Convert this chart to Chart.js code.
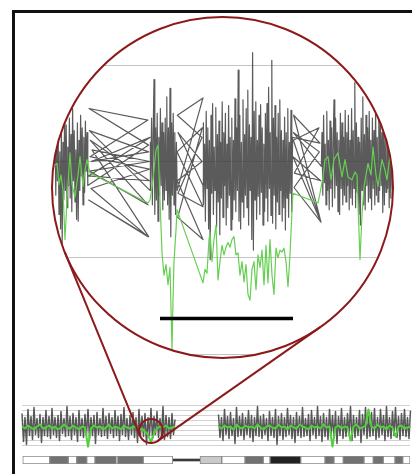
<!DOCTYPE html>
<html>
<head>
<meta charset="utf-8">
<title>Deletion zoom</title>
<script src="https://cdn.jsdelivr.net/npm/chart.js@4.4.1/dist/chart.umd.min.js"></script>
<style>
    html, body { margin: 0; padding: 0; background: #fff; width: 412px; height: 474px; overflow: hidden; }
    .frame { position: absolute; left: 12px; top: 10px; width: 420px; height: 480px; border: 3px solid #111; }
    canvas { position: absolute; left: 0; top: 0; }
    #zoomChart { z-index: 3; }
</style>
</head>
<body>
<div class="frame"></div>
<canvas id="stripChart" width="412" height="474"></canvas>
<canvas id="ideoChart" width="412" height="474"></canvas>
<canvas id="zoomChart" width="412" height="474"></canvas>
<script>
// ---------- whole chromosome, positions in Mb ----------
var chrLengthMb = 155.2;
var probeStepMb = 0.6;
var pArmStartMb = 0;
var qArmStartMb = 78.6;
var pArmGray = [
    1.2, -1.6, 0.8, -1.9, 1.6, -1.0, 0.9, -1.4, 1.8, -0.9, 0.7, -1.2, 1.1, -1.7, 0.8, -1.0, 1.5, -1.1, 0.9, -1.3,
    1.7, -0.9, 0.8, -1.2, 1.0, -1.5, 1.4, -0.8, 0.7, -1.1, 1.9, -1.0, 0.9, -1.4, 1.2, -0.9, 0.8, -1.6, 1.5, -1.0,
    0.7, -1.2, 1.1, -0.9, 1.6, -1.3, 0.8, -1.0, 1.0, -1.8, 1.3, -0.9, 0.7, -1.1, 1.7, -1.0, 0.9, -1.3, 1.2, -0.8,
    0.8, -1.2, 1.5, -1.0, 0.9, -1.5, 1.1, -0.9, 1.8, -1.1, 0.7, -1.4, 1.0, -0.9, 1.3, -1.2, 0.8, -1.7, 1.6, -1.0,
    0.9, -1.1, 1.2, -1.9, 0.8, -1.0, 1.7, -1.3, 0.9, -0.9, 1.4, -1.2, 0.7, -1.0, 1.9, -1.4, 1.0, -1.1, 0.8, -1.3,
    1.2, -0.9, 0.6
];
var qArmGray = [
    1.1, -1.2, 0.8, -1.5, 1.6, -0.9, 0.9, -1.3, 1.3, -1.0, 0.7, -1.8, 1.8, -1.1, 0.9, -1.0, 1.2, -1.4, 0.8, -0.9,
    1.5, -1.2, 1.0, -1.6, 0.8, -1.0, 1.9, -1.1, 0.9, -1.3, 1.1, -0.9, 0.7, -1.5, 1.4, -1.0, 0.8, -1.2, 1.6, -1.9,
    0.9, -1.0, 1.2, -1.4, 0.8, -1.1, 1.7, -0.9, 1.0, -1.3, 0.8, -1.7, 1.3, -1.0, 0.9, -1.2, 1.8, -1.1, 0.7, -1.0,
    1.1, -1.5, 1.5, -0.9, 0.8, -1.3, 1.9, -1.0, 0.9, -1.6, 1.2, -1.1, 0.8, -1.4, 1.6, -0.9, 1.0, -1.2, 1.4, -1.8,
    0.9, -1.0, 1.7, -1.3, 0.8, -1.1, 1.2, -0.9, 1.9, -1.5, 1.0, -1.2, 0.8, -1.0, 1.5, -1.7, 1.1, -0.9, 1.8, -1.3,
    0.9, -1.1, 1.3, -1.0, 1.7, -1.4, 0.8, -1.2, 1.6, -0.9, 1.0, -1.5, 1.9, -1.1, 0.8, -1.3, 1.4, -1.0, 1.8, -1.2,
    0.9, -1.4, 1.2, -1.0, 1.6, -1.1, 0.8, -1.3, 1.5
];
var segmentStepMb = 1.2;
var pArmGreen = [
    -0.1, -0.3, 0.0, -0.2, -0.4, -0.1, 0.1, -0.3, -0.2, 0.0,
    -0.3, -0.1, -0.4, -0.2, 0.1, -0.2, -0.3, 0.0, -0.2, -0.4,
    -0.1, -0.2, -2.1, -0.3, 0.0, -0.2, -0.1, -0.4, -0.2, 0.1,
    -0.3, -0.1, -0.2, -0.4, 0.0, -0.2, -0.3, -0.1, -0.2, -0.5,
    -0.3, -0.6, -0.9, -1.7, -0.8, -0.3, -0.1, -0.2, 0.0, -0.3,
    -0.2, -0.1
];
var qArmGreen = [
    -0.1, -0.3, 0.0, -0.2, -0.1, -0.4, 0.1, -0.2, -0.3, 0.0,
    -0.2, -0.1, -0.3, 0.1, -0.2, -0.4, -0.1, 0.0, -0.2, -0.3,
    0.1, -0.2, -0.1, -0.4, 0.0, -0.2, -0.3, 0.1, -0.1, -0.2,
    -0.4, 0.0, -0.2, -0.1, -0.3, 0.1, -0.2, -0.1, -2.1, -0.2,
    0.0, -0.3, -0.1, -0.2, -1.5, -0.1, 0.1, -0.3, -0.2, 0.0,
    1.6, -0.1, -0.3, 0.1, -0.2, -0.1, -0.4, 0.0, -0.2, -1.1,
    -0.1, 0.0, -0.3, -0.2, -0.1
];

// ideogram bands
var bandStart = [0.3, 11.1, 18.5, 21.9, 25.9, 29.2, 37.8, 38.2, 48.5, 71.2, 79.9, 89.2, 96.5, 99.2, 111.5, 121.2, 124.8, 128.5, 136.8, 140.5, 144.5, 149.2, 152.3];
var bandEnd   = [11.1, 18.5, 21.9, 25.9, 29.2, 37.8, 38.2, 48.5, 60.3, 79.9, 89.2, 96.5, 99.2, 111.5, 121.2, 124.8, 128.5, 136.8, 140.5, 144.5, 149.2, 152.3, 155.2];
var bandStain = ['gneg', 'gpos', 'gneg', 'gpos', 'gneg', 'gpos', 'gneg', 'gpos', 'gneg', 'gvar', 'gneg', 'gpos', 'gneg', 'gpos100', 'gneg', 'gpos', 'gneg', 'gpos', 'gneg', 'gpos', 'gneg', 'gpos', 'gneg'];
var centromereMb = [60.3, 71.2];

// region shown in the magnifier
var zoomFromMb = 46.8;
var zoomToMb = 56.4;
var zoomLevel = -0.55;

// ---------- magnified window, positions in kb from window start ----------
var windowKb = 10230;
var probeStepKb = 24;
var segAStart = 90;
var segA = [0.30, -0.35, 0.42, -0.20, 0.25, -0.55, 0.10, -0.70, 0.35, -0.85, 0.20, -0.40, 0.50, -0.30, 0.38, -0.48, 0.15, -0.25, 0.45, -0.38, 0.28,
    -0.52, 0.55, -0.20, 0.32, -0.42, 0.12, -0.60, 0.40, -0.62, 0.22, -0.30, 0.48, -0.15, 0.35, -0.45, 0.25, -0.32, 0.42, -0.10, 0.30, -0.25];
var linkBKb  = [2900, 1110, 2880, 1140, 2920, 1170, 2880, 1100, 2900, 1200, 2930, 1120, 2880, 1150, 2920, 1090, 2940, 1180, 2900, 1120, 2940];
var linkBLog = [0.17, 0.55, 0.43, 0.05, -0.08, -0.28, -0.78, -0.40, -0.78, 0.12, 0.00, -0.10, -0.45, 0.22, -0.20, -0.15, 0.25, 0.00, 0.10, 0.32, -0.30];
var segCStart = 2940;
var segC = [0.20, -0.30, 0.45, -0.45, 0.30, 0.85, -0.55, 0.35, -0.40, 0.50, -0.62, 0.25, -0.35, 0.55, -0.25, 0.40, -0.50, 0.30,
    -0.40, 0.45, -0.30, 0.67, -0.45, 0.35, -0.60, 0.76, -0.78, 0.40, -0.35, 0.50, -0.45, 0.30, -0.55, 0.20, -0.30];
var linkDKb  = [4530, 3760, 4500, 3780, 4530, 3750, 4510, 3770, 4530, 3760, 4500, 3780, 4530];
var linkDLog = [0.66, 0.48, 0.25, -0.33, -0.47, 0.10, 0.35, -0.58, -0.81, -0.20, 0.00, 0.30, -0.25];
var segEStart = 4530;
var segE = [
    0.40, -0.45, 0.18, -0.62, 0.52, -0.28, 0.35, -0.70, 0.22, -1.02,
    0.48, -0.33, 0.60, -0.55, 0.15, -0.30, 0.56, -0.68, 0.28, -0.42,
    0.42, -0.76, 0.20, -0.38, 0.62, -0.58, 0.30, -0.25, 0.50, -0.66,
    0.18, -0.48, 0.58, -0.35, 0.25, -0.71, 0.45, -0.60, 0.22, -0.40,
    0.65, -0.52, 0.35, -0.30, 0.95, -0.62, 0.48, -0.70, 0.20, -0.42,
    0.64, -0.58, 0.28, -0.35, 0.55, -0.48, 0.74, -0.66, 0.38, -0.30,
    0.25, -0.81, 1.13, -0.92, 0.52, -0.40, 0.62, -0.60, 0.22, -0.36,
    0.48, -0.55, 0.59, -0.32, 0.35, -0.66, 0.18, -0.52, 0.50, -0.38,
    0.60, -0.62, 0.77, -0.28, 0.30, -0.56, 1.05, -0.64, 0.45, -0.35,
    0.58, -0.70, 0.25, -0.42, 0.50, -0.55, 0.64, -0.30, 0.32, -0.62,
    0.22, -0.48, 0.46, -0.71, 0.30, -0.38, 0.55, -0.58, 0.20, -0.33,
    0.53, -0.52, 0.25
];
var linkFKb  = [8040, 7250, 8070, 7240, 8010, 7270, 8060, 7230, 8070, 7260, 8020, 7240, 8080];
var linkFLog = [0.19, 0.48, -0.63, 0.22, 0.35, -0.12, -0.20, 0.05, -0.63, -0.27, 0.10, 0.30, -0.05];
var segGStart = 8100;
var segG = [
    0.30, -0.35, 0.48, -0.22, 0.18, -0.45, 0.52, -0.30, 0.22, -0.50,
    0.42, -0.28, 0.35, -0.47, 0.20, 0.64, -0.38, 0.45, -0.25, 0.30,
    -0.52, 0.22, -0.55, 0.50, -0.28, 0.40, -0.45, 0.25, -0.35, 0.53,
    -0.42, 0.30, -0.25, 0.48, -0.50, 0.22, -0.38, 0.55, -0.45, 0.32,
    -0.28, 0.82, -0.48, 0.40, -0.32, 0.25, -0.55, 0.20, -0.66, 0.45,
    -0.30, 0.67, -0.45, 0.28, -0.50, 0.48, -0.25, 0.35, -0.42, 0.52,
    -0.38, 0.22, -0.50, 0.45, -0.28, 0.32, -0.45, 0.55, -0.35, 0.25,
    -0.42, 0.59, -0.30, 0.45, -0.25, 0.30, -0.53, 0.48, -0.45, 0.25,
    -0.32, 0.50, -0.28, 0.40, -0.48, 0.22, -0.38, 0.45, -0.28, 0.35
];

// smoothed (segmented) patient profile in the window
var greenKb = [90, 150, 210, 270, 330, 390, 450, 540, 600, 690, 780, 840, 930, 990, 1050, 1140,
    2880, 2940, 3030, 3120, 3180, 3240, 3300, 3360, 3420, 3480, 3540, 3600, 3630, 3660, 3720, 3750,
    4530, 4590, 4650, 4710, 4740, 4800, 4860, 4920, 4980, 5040, 5100, 5160, 5220, 5280, 5340, 5400, 5460, 5520, 5580, 5640,
    5700, 5760, 5820, 5880, 5940, 6000, 6060, 6120, 6180, 6240, 6300, 6360, 6420, 6480, 6540, 6600, 6660, 6720, 6780, 6840,
    6900, 6960, 7020, 7080, 7140, 7200, 7230,
    7980, 8040, 8130, 8190, 8280, 8370, 8460, 8580, 8700, 8790, 8880, 9000, 9090, 9150, 9240, 9300, 9360, 9480, 9570, 9630,
    9720, 9780, 9900, 9990, 10050, 10140, 10230];
var greenLog = [-0.04, -0.02, -0.24, -0.14, -0.30, -0.81, -0.40, 0.09, -0.24, -0.37, -0.14, 0.05, -0.26, -0.09, 0.02, -0.12,
    -0.43, -0.40, -0.19, 0.12, 0.17, -0.40, -0.95, -1.18, -1.07, -1.28, -1.10, -1.95, -1.44, -1.04, -0.71, -0.50,
    -1.26, -1.12, -1.16, -0.81, -0.74, -1.04, -0.81, -0.66, -1.23, -1.04, -0.87, -0.97, -0.89, -0.84, -0.89, -0.81, -0.78, -0.97, -0.95, -1.18,
    -1.04, -1.25, -1.07, -1.38, -1.44, -1.12, -1.04, -1.33, -0.97, -1.10, -0.92, -1.28, -0.87, -1.26, -0.81, -1.18, -1.38, -0.90, -1.00, -0.92,
    -0.94, -0.90, -1.04, -1.30, -0.97, -0.50, -0.33,
    -0.43, -0.33, -0.16, 0.02, 0.05, -0.19, 0.02, 0.09, -0.16, 0.02, -0.16, -0.19, -0.11, -0.14, -1.02, -0.55, -0.26, -0.02, -0.14, 0.15,
    -0.14, -0.26, 0.02, -0.09, -0.19, 0.07, -0.04];

// extent of the deletion (scale bar)
var deletionKb = [3240, 7230];
var deletionBarLevel = -1.63;

var stainColor = { gneg: '#ffffff', gpos: '#727272', gpos100: '#222222', gvar: '#c9c9c9' };

function series(start, step, values) {
    return values.map(function (v, i) { return { x: start + i * step, y: v }; });
}
function pairs(xs, ys) {
    return xs.map(function (x, i) { return { x: x, y: ys[i] }; });
}

Chart.defaults.animation = false;
Chart.defaults.events = [];
Chart.defaults.plugins.legend.display = false;
Chart.defaults.plugins.tooltip.enabled = false;

var stripChart;

document.addEventListener('DOMContentLoaded', function () {
    // Whole chromosome profile
    stripChart = new Chart(document.getElementById('stripChart').getContext('2d'), {
        type: 'line',
        data: {
            datasets: [
                { data: series(pArmStartMb, segmentStepMb, pArmGreen), borderColor: '#52cf3c', borderWidth: 2, order: 0 },
                { data: series(qArmStartMb, segmentStepMb, qArmGreen), borderColor: '#52cf3c', borderWidth: 2, order: 0 },
                { data: series(pArmStartMb, probeStepMb, pArmGray), borderColor: 'rgba(70,70,70,0.9)', borderWidth: 1.5, order: 1 },
                { data: series(qArmStartMb, probeStepMb, qArmGray), borderColor: 'rgba(70,70,70,0.9)', borderWidth: 1.5, order: 1 }
            ]
        },
        options: {
            responsive: false,
            devicePixelRatio: 1,
            layout: { padding: { left: 22, right: 2, top: 403, bottom: 25 } },
            elements: { point: { radius: 0 }, line: { tension: 0, borderJoinStyle: 'round' } },
            clip: false,
            scales: {
                x: { type: 'linear', min: 0, max: chrLengthMb, display: false },
                y: {
                    min: -2.35, max: 2.25,
                    ticks: { display: false, stepSize: 0.5, includeBounds: false },
                    border: { display: false },
                    grid: { color: '#d2d2d2', drawTicks: false }
                }
            }
        }
    });

    // Ideogram
    new Chart(document.getElementById('ideoChart').getContext('2d'), {
        type: 'bar',
        data: {
            labels: ['chr'],
            datasets: [
                {
                    data: bandStart.map(function (s, i) { return { y: 'chr', x: [s, bandEnd[i]] }; }),
                    backgroundColor: bandStain.map(function (s) { return stainColor[s]; }),
                    borderColor: '#8a8a8a',
                    borderWidth: 1,
                    borderSkipped: false,
                    grouped: false
                },
                {
                    data: [{ y: 'chr', x: centromereMb }],
                    backgroundColor: '#3a3a3a',
                    borderWidth: 0,
                    maxBarThickness: 2,
                    grouped: false
                }
            ]
        },
        options: {
            indexAxis: 'y',
            responsive: false,
            devicePixelRatio: 1,
            layout: { padding: { left: 22, right: 2, top: 456, bottom: 10 } },
            barPercentage: 1,
            categoryPercentage: 1,
            scales: {
                x: { type: 'linear', min: 0, max: chrLengthMb, display: false },
                y: { display: false }
            }
        }
    });

    // Magnifier: clip the zoomed plot to a circle, then link it to the window on the strip
    var lensPlugin = {
        id: 'lens',
        beforeDraw: function (chart) {
            var a = chart.chartArea, ctx = chart.ctx;
            ctx.save();
            ctx.beginPath();
            ctx.arc((a.left + a.right) / 2, (a.top + a.bottom) / 2, (a.right - a.left) / 2, 0, Math.PI * 2);
            ctx.clip();
        },
        afterDraw: function (chart) {
            var a = chart.chartArea, ctx = chart.ctx;
            ctx.restore();
            var big = { x: (a.left + a.right) / 2, y: (a.top + a.bottom) / 2, r: (a.right - a.left) / 2 };
            var sx = stripChart.scales.x, sy = stripChart.scales.y;
            var x0 = sx.getPixelForValue(zoomFromMb), x1 = sx.getPixelForValue(zoomToMb);
            var small = { x: (x0 + x1) / 2, y: sy.getPixelForValue(zoomLevel), r: (x1 - x0) / 2 };

            ctx.save();
            ctx.strokeStyle = '#8c1a1a';
            ctx.lineWidth = 2;
            ctx.beginPath();
            ctx.arc(big.x, big.y, big.r, 0, Math.PI * 2);
            ctx.stroke();
            ctx.beginPath();
            ctx.arc(small.x, small.y, small.r, 0, Math.PI * 2);
            ctx.stroke();

            // outer tangents between the two circles
            var dx = small.x - big.x, dy = small.y - big.y;
            var dist = Math.sqrt(dx * dx + dy * dy);
            var base = Math.atan2(dy, dx);
            var delta = Math.acos((big.r - small.r) / dist);
            [base + delta, base - delta].forEach(function (ang) {
                var nx = Math.cos(ang), ny = Math.sin(ang);
                ctx.beginPath();
                ctx.moveTo(big.x + big.r * nx, big.y + big.r * ny);
                ctx.lineTo(small.x + small.r * nx, small.y + small.r * ny);
                ctx.stroke();
            });
            ctx.restore();
        }
    };

    var grayPoints = [].concat(
        series(segAStart, probeStepKb, segA), pairs(linkBKb, linkBLog),
        series(segCStart, probeStepKb, segC), pairs(linkDKb, linkDLog),
        series(segEStart, probeStepKb, segE), pairs(linkFKb, linkFLog),
        series(segGStart, probeStepKb, segG)
    );

    new Chart(document.getElementById('zoomChart').getContext('2d'), {
        type: 'line',
        data: {
            datasets: [
                { data: [{ x: deletionKb[0], y: deletionBarLevel }, { x: deletionKb[1], y: deletionBarLevel }], borderColor: '#000', borderWidth: 3.5, borderCapStyle: 'butt', order: 0 },
                { data: pairs(greenKb, greenLog), borderColor: '#66cf52', borderWidth: 1.2, order: 1 },
                { data: grayPoints, borderColor: 'rgba(62,62,62,0.85)', borderWidth: 1.2, order: 2 }
            ]
        },
        options: {
            responsive: false,
            devicePixelRatio: 1,
            layout: { padding: { left: 52, right: 19, top: 17, bottom: 116 } },
            elements: { point: { radius: 0 }, line: { tension: 0, borderJoinStyle: 'round' } },
            scales: {
                x: { type: 'linear', min: 0, max: windowKb, display: false },
                y: {
                    min: -2.04, max: 1.5,
                    ticks: { display: false, stepSize: 1, includeBounds: false },
                    border: { display: false },
                    grid: { color: '#c4c4c4', drawTicks: false }
                }
            }
        },
        plugins: [lensPlugin]
    });
});
</script>
</body>
</html>
